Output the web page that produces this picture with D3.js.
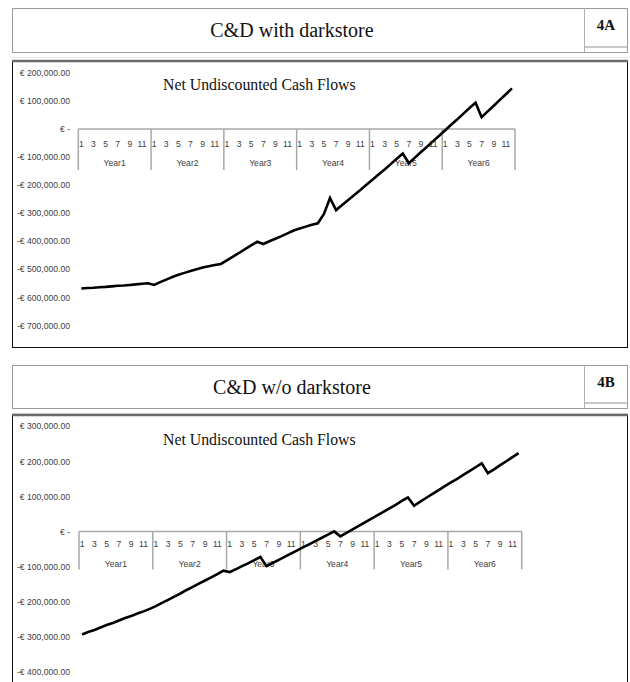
<!DOCTYPE html>
<html>
<head>
<meta charset="utf-8">
<script src="https://cdn.jsdelivr.net/npm/d3@7"></script>
<style>
  html, body { margin: 0; padding: 0; background: #fff; }
  svg { display: block; }
  .ylab text { font-family: "Liberation Sans", Arial, sans-serif; font-size: 8.6px; fill: #404040; }
  .cat text { font-family: "Liberation Sans", Arial, sans-serif; font-size: 8.6px; fill: #404040; }
</style>
</head>
<body>
<svg id="page" width="630" height="682"></svg>
<script>
// Month-by-month net undiscounted cash flows (EUR) over six years
const years = ["Year1", "Year2", "Year3", "Year4", "Year5", "Year6"];
const months = [1, 2, 3, 4, 5, 6, 7, 8, 9, 10, 11, 12];

const flowsWithDarkstore = [
  -569000, -567000, -566000, -564000, -563000, -561000, -559000, -558000, -556000, -554000, -552000, -550000,
  -556000, -546000, -537000, -528000, -520000, -513000, -506000, -500000, -494000, -489000, -485000, -481000,
  -468000, -455000, -442000, -428000, -415000, -402000, -410000, -400000, -391000, -382000, -372000, -362000,
  -355000, -348000, -341000, -336000, -303000, -246000, -289000, -271000, -253000, -235000, -217000, -199000,
  -181000, -162000, -144000, -125000, -106000, -87000, -122000, -102000, -82000, -63000, -43000, -24000,
  -4000, 16000, 35000, 55000, 75000, 94000, 42000, 63000, 83000, 104000, 124000, 145000
];

const flowsWithoutDarkstore = [
  -294000, -287000, -281000, -274000, -267000, -261000, -254000, -247000, -241000, -234000, -228000, -221000,
  -213000, -204000, -195000, -186000, -177000, -167000, -158000, -149000, -140000, -131000, -122000, -112000,
  -116000, -108000, -99000, -91000, -82000, -73000, -99000, -90000, -81000, -72000, -63000, -54000,
  -45000, -36000, -27000, -18000, -9000, 0, -14000, -4000, 6000, 16000, 26000, 36000,
  46000, 56000, 66000, 76000, 87000, 97000, 73000, 85000, 96000, 107000, 118000, 129000,
  140000, 150000, 161000, 172000, 183000, 194000, 166000, 177000, 189000, 200000, 212000, 223000
];

const yTicksWith = [200000, 100000, 0, -100000, -200000, -300000, -400000, -500000, -600000, -700000];
const yTicksWithout = [300000, 200000, 100000, 0, -100000, -200000, -300000, -400000];

const panelTitles = ["C&D with darkstore", "C&D w/o darkstore"];
const panelTags = ["4A", "4B"];
const chartTitle = "Net Undiscounted Cash Flows";

const svg = d3.select("#page");
const num = d3.format(",.2f");
const euro = v => v === 0 ? "€ -" : (v < 0 ? "-€ " + num(-v) : "€ " + num(v));

const monthKeys = years.flatMap(y => months.map(m => y + "-" + m));

function header(top, bottom, title, tag) {
  const g = svg.append("g");
  g.append("rect").attr("x", 12.5).attr("y", top + 0.5).attr("width", 615).attr("height", bottom - top)
    .attr("fill", "#fff").attr("stroke", "#9a9a9a").attr("stroke-width", 1);
  g.append("line").attr("x1", 584.5).attr("x2", 584.5).attr("y1", top).attr("y2", bottom)
    .attr("stroke", "#b0b0b0");
  g.append("line").attr("x1", 585).attr("x2", 627).attr("y1", bottom - 5).attr("y2", bottom - 5)
    .attr("stroke", "#c8c8c8").attr("stroke-width", 2);
  g.append("text").attr("x", 292).attr("y", (top + bottom) / 2 + 7)
    .attr("text-anchor", "middle")
    .style("font-family", "'Liberation Serif', 'Times New Roman', serif").style("font-size", "20px")
    .style("fill", "#111").text(title);
  g.append("text").attr("x", 606).attr("y", top + 22)
    .attr("text-anchor", "middle")
    .style("font-family", "'Liberation Serif', 'Times New Roman', serif").style("font-size", "15px")
    .style("font-weight", "bold").style("fill", "#111").text(tag);
  g.append("line").attr("x1", 12).attr("x2", 628).attr("y1", bottom + 5.5).attr("y2", bottom + 5.5)
    .attr("stroke", "#e4e4e4").attr("stroke-width", 1);
}

function panel(cfg) {
  const g = svg.append("g");
  // chart frame
  g.append("rect").attr("x", 12.5).attr("y", cfg.boxTop).attr("width", 615).attr("height", cfg.boxBottom - cfg.boxTop)
    .attr("fill", "#fff").attr("stroke", "#111").attr("stroke-width", 1);
  g.append("line").attr("x1", 12).attr("x2", 628).attr("y1", cfg.boxTop).attr("y2", cfg.boxTop)
    .attr("stroke", "#6a6a6a").attr("stroke-width", 2.5);

  const x = d3.scaleBand().domain(monthKeys).range(cfg.xRange).paddingInner(0).paddingOuter(0);
  const y = d3.scaleLinear().domain(cfg.yDomain).range(cfg.yRange);

  // value axis labels
  const ya = g.append("g").attr("class", "ylab").attr("transform", "translate(71,0)")
    .call(d3.axisLeft(y).tickValues(cfg.yTicks).tickSize(0).tickPadding(1).tickFormat(euro));
  ya.select(".domain").remove();

  // category axis: months within years
  const y0 = y(0);
  const cat = g.append("g").attr("class", "cat");
  cat.append("line").attr("x1", cfg.xRange[0]).attr("x2", cfg.xRange[1]).attr("y1", y0).attr("y2", y0)
    .attr("stroke", "#a8a8a8").attr("stroke-width", 1.5);
  const yearW = (cfg.xRange[1] - cfg.xRange[0]) / years.length;
  const bounds = d3.range(years.length + 1).map(i => cfg.xRange[0] + i * yearW);
  cat.selectAll("line.div").data(bounds).join("line").attr("class", "div")
    .attr("x1", d => d).attr("x2", d => d).attr("y1", y0).attr("y2", y0 + cfg.divLen)
    .attr("stroke", "#a8a8a8").attr("stroke-width", 1.5);
  cat.selectAll("text.m").data(monthKeys.filter(k => +k.split("-")[1] % 2 === 1)).join("text")
    .attr("class", "m")
    .attr("x", k => x(k) + x.bandwidth() / 2).attr("y", y0 + cfg.monthOff)
    .attr("text-anchor", "middle").text(k => k.split("-")[1]);
  cat.selectAll("text.yr").data(years).join("text").attr("class", "yr")
    .attr("x", (d, i) => bounds[i] + yearW / 2).attr("y", y0 + cfg.yearOff)
    .attr("text-anchor", "middle").text(d => d);

  // chart title
  g.append("text").attr("x", 163).attr("y", cfg.titleY)
    .style("font-family", "'Liberation Serif', 'Times New Roman', serif").style("font-size", "15.8px")
    .style("fill", "#111").text(chartTitle);

  // cash-flow line
  const line = d3.line()
    .x((d, i) => x(monthKeys[i]) + x.bandwidth() / 2)
    .y(d => y(d));
  g.append("path").datum(cfg.values).attr("d", line)
    .attr("fill", "none").attr("stroke", "#000").attr("stroke-width", 2.6)
    .attr("stroke-linejoin", "miter").attr("stroke-linecap", "butt");
}

header(8, 52, panelTitles[0], panelTags[0]);
panel({
  boxTop: 61, boxBottom: 347.5,
  xRange: [78.3, 515], yDomain: [-700000, 200000], yRange: [325.3, 73],
  yTicks: yTicksWith, values: flowsWithDarkstore,
  divLen: 41, monthOff: 17.5, yearOff: 36.5, titleY: 89.5
});

header(365, 408, panelTitles[1], panelTags[1]);
panel({
  boxTop: 415, boxBottom: 690,
  xRange: [79, 521.7], yDomain: [-400000, 300000], yRange: [671.7, 426.2],
  yTicks: yTicksWithout, values: flowsWithoutDarkstore,
  divLen: 38, monthOff: 15.5, yearOff: 35.5, titleY: 444.5
});
</script>
</body>
</html>
